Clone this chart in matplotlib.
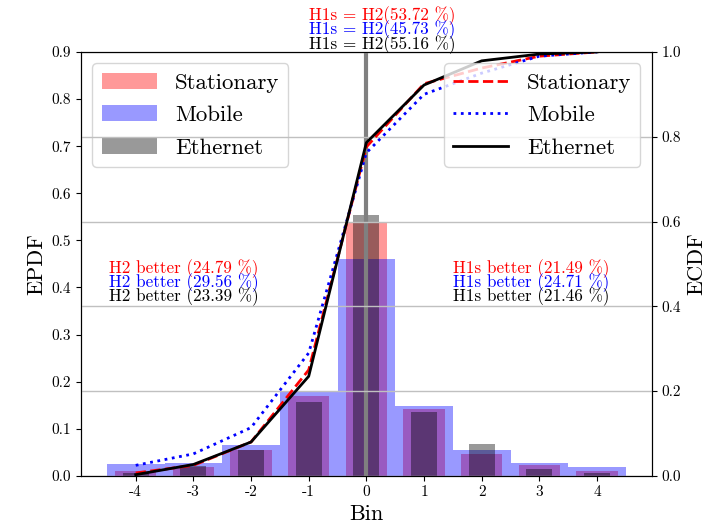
import matplotlib
matplotlib.use("Agg")
import matplotlib.pyplot as plt

plt.rcParams['font.family'] = ['cmr10', 'DejaVu Serif']
plt.rcParams['mathtext.fontset'] = 'cm'
plt.rcParams['axes.formatter.use_mathtext'] = True
plt.rcParams['axes.unicode_minus'] = False

# data
bins = [-4, -3, -2, -1, 0, 1, 2, 3, 4]
bin_labels = ['-4', '-3', '-2', '-1', '0', '1', '2', '3', '4']

epdf_stationary = [0.010, 0.020, 0.056, 0.170, 0.540, 0.142, 0.047, 0.023, 0.010]
epdf_mobile = [0.026, 0.028, 0.066, 0.179, 0.460, 0.149, 0.055, 0.028, 0.020]
epdf_ethernet = [0.006, 0.022, 0.055, 0.156, 0.553, 0.135, 0.068, 0.015, 0.006]

ecdf_stationary = [0.007, 0.025, 0.080, 0.250, 0.776, 0.925, 0.962, 0.990, 1.000]
ecdf_mobile = [0.025, 0.052, 0.114, 0.290, 0.762, 0.900, 0.950, 0.990, 1.000]
ecdf_ethernet = [0.003, 0.027, 0.080, 0.235, 0.786, 0.922, 0.979, 0.995, 1.000]

names = ['Stationary', 'Mobile', 'Ethernet']
equal_pct = [53.72, 45.73, 55.16]
h2_better_pct = [24.79, 29.56, 23.39]
h1s_better_pct = [21.49, 24.71, 21.46]
text_colors = ['red', 'blue', 'black']

fig = plt.figure(figsize=(7.1, 5.3), dpi=100)
ax = fig.add_axes([0.114, 0.102, 0.804, 0.800])

# EPDF bars
ax.bar(bins, epdf_stationary, width=0.72, color='red', alpha=0.4, label=names[0])
ax.bar(bins, epdf_mobile, width=1.0, color='blue', alpha=0.4, label=names[1])
ax.bar(bins, epdf_ethernet, width=0.45, color='black', alpha=0.4, label=names[2])
ax.axvline(0, color='gray', lw=3)

ax.set_xlim(-4.95, 4.95)
ax.set_ylim(0, 0.9)
ax.set_xticks(bins)
ax.set_xticklabels(bin_labels)
ax.set_yticks([0.0, 0.1, 0.2, 0.3, 0.4, 0.5, 0.6, 0.7, 0.8, 0.9])
ax.set_yticklabels(['0.0', '0.1', '0.2', '0.3', '0.4', '0.5', '0.6', '0.7', '0.8', '0.9'])
ax.tick_params(labelsize=11)
ax.set_xlabel('Bin', fontsize=16)
ax.set_ylabel('EPDF', fontsize=16)
ax.legend(loc='upper left', fontsize=16.5, handlelength=2.4, labelspacing=0.55)

# ECDF lines
ax2 = ax.twinx()
ax2.plot(bins, ecdf_stationary, color='red', ls='--', lw=2, label=names[0])
ax2.plot(bins, ecdf_mobile, color='blue', ls=':', lw=2, label=names[1])
ax2.plot(bins, ecdf_ethernet, color='black', ls='-', lw=2, label=names[2])
ax2.set_ylim(0, 1.0)
ax2.set_yticks([0.0, 0.2, 0.4, 0.6, 0.8, 1.0])
ax2.set_yticklabels(['0.0', '0.2', '0.4', '0.6', '0.8', '1.0'])
ax2.tick_params(labelsize=11)
ax2.set_ylabel('ECDF', fontsize=16)
ax2.grid(axis='y', color='#c0c0c0', lw=1)
ax2.legend(loc='upper right', fontsize=16.5, handlelength=2.4, labelspacing=0.55)

# share annotations
for i, c in enumerate(text_colors):
    ax2.text(-1.0, 1.086 - 0.034 * i, 'H1s = H2(%.2f %%)' % equal_pct[i],
             color=c, fontsize=12.3, va='center', ha='left', clip_on=False)
    ax.text(-4.47, 0.44 - 0.0295 * i, 'H2 better (%.2f %%)' % h2_better_pct[i],
            color=c, fontsize=12.3, va='center', ha='left')
    ax.text(1.50, 0.44 - 0.0295 * i, 'H1s better (%.2f %%)' % h1s_better_pct[i],
            color=c, fontsize=12.3, va='center', ha='left')

fig.savefig('out.png', dpi=100)
